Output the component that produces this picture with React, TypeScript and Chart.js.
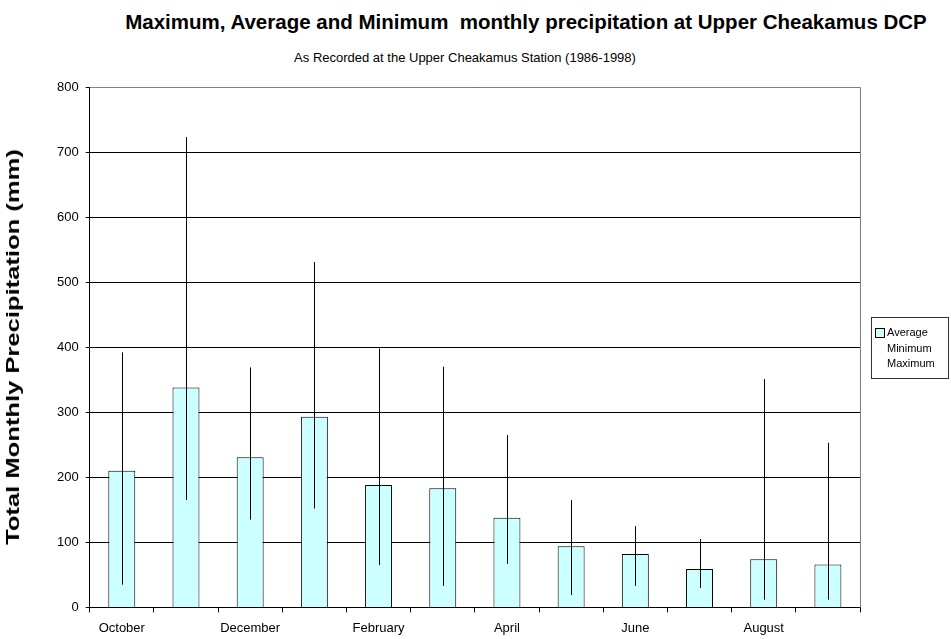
import React, { useEffect, useRef } from "react";
import { Chart, registerables } from "chart.js";

Chart.register(...registerables);

const months = [
  "October", "November", "December", "January", "February", "March",
  "April", "May", "June", "July", "August", "September",
];
const averageValues = [210, 338, 231, 293, 188, 183, 138, 94, 82, 59, 74, 66];
const minimumValues = [35, 165, 135, 152, 65, 33, 67, 19, 33, 30, 12, 12];
const maximumValues = [392, 723, 369, 531, 398, 370, 265, 165, 125, 105, 351, 253];
const yTicks = [0, 100, 200, 300, 400, 500, 600, 700, 800];

const titleText = "Maximum, Average and Minimum  monthly precipitation at Upper Cheakamus DCP";
const subtitleText = "As Recorded at the Upper Cheakamus Station (1986-1998)";
const yTitle = "Total Monthly Precipitation (mm)";

const FONT = "'Liberation Sans', Arial, sans-serif";

const hiLoPlugin = {
  id: "hiLo",
  afterDatasetsDraw(chart: any) {
    const { ctx, scales } = chart;
    const mins = chart.data.datasets[1].data as number[];
    const maxs = chart.data.datasets[2].data as number[];
    ctx.save();
    ctx.strokeStyle = "#000";
    ctx.lineWidth = 1;
    for (let i = 0; i < mins.length; i++) {
      const x = Math.round(scales.x.getPixelForValue(i)) + 0.5;
      const y1 = scales.y.getPixelForValue(mins[i]);
      const y2 = scales.y.getPixelForValue(maxs[i]);
      ctx.beginPath();
      ctx.moveTo(x, y1);
      ctx.lineTo(x, y2);
      ctx.stroke();
    }
    ctx.restore();
  },
};

const borderPlugin = {
  id: "plotBorder",
  afterDraw(chart: any) {
    const { ctx, chartArea } = chart;
    ctx.save();
    ctx.strokeStyle = "#808080";
    ctx.lineWidth = 1;
    ctx.beginPath();
    ctx.moveTo(chartArea.left, Math.round(chartArea.top) + 0.5);
    ctx.lineTo(Math.round(chartArea.right) + 0.5, Math.round(chartArea.top) + 0.5);
    ctx.lineTo(Math.round(chartArea.right) + 0.5, chartArea.bottom);
    ctx.stroke();
    ctx.restore();
  },
};

export default function App() {
  const canvasRef = useRef<HTMLCanvasElement>(null);

  useEffect(() => {
    const chart = new Chart(canvasRef.current as HTMLCanvasElement, {
      type: "bar",
      data: {
        labels: months,
        datasets: [
          {
            type: "bar",
            label: "Average",
            data: averageValues,
            backgroundColor: "#CCFFFF",
            borderColor: "#000000",
            borderWidth: 1,
            categoryPercentage: 1,
            barPercentage: 0.42,
          },
          {
            type: "line",
            label: "Minimum",
            data: minimumValues,
            showLine: false,
            pointRadius: 0,
          },
          {
            type: "line",
            label: "Maximum",
            data: maximumValues,
            showLine: false,
            pointRadius: 0,
          },
        ] as any,
      },
      options: {
        animation: false,
        responsive: false,
        maintainAspectRatio: false,
        layout: { padding: { top: 87, right: 91, left: 50, bottom: 0 } },
        plugins: {
          legend: { display: false },
          tooltip: { enabled: false },
          title: { display: false },
        },
        scales: {
          x: {
            offset: true,
            grid: {
              offset: true,
              drawOnChartArea: false,
              drawTicks: true,
              tickLength: 5,
              color: "#000",
            },
            border: { color: "#000", width: 1 },
            ticks: {
              autoSkip: false,
              maxRotation: 0,
              color: "#000",
              font: { family: FONT, size: 13 },
              padding: 8,
              callback: (_v: any, i: number) => (i % 2 === 0 ? months[i] : ""),
            },
          },
          y: {
            min: yTicks[0],
            max: yTicks[yTicks.length - 1],
            afterBuildTicks: (axis: any) => {
              axis.ticks = yTicks.map((v) => ({ value: v }));
            },
            grid: { color: "#000", tickLength: 4, lineWidth: 1 },
            border: { color: "#000", width: 1 },
            ticks: {
              color: "#000",
              font: { family: FONT, size: 13 },
              padding: 7,
            },
          },
        },
      },
      plugins: [hiLoPlugin, borderPlugin],
    });
    return () => chart.destroy();
  }, []);

  return (
    <div style={{ position: "fixed", left: 0, top: 0, width: 951, height: 639, background: "#fff", fontFamily: FONT, overflow: "hidden" }}>
      <div style={{ position: "absolute", left: 0, width: 1052, top: 10, textAlign: "center", fontWeight: "bold", fontSize: 20.5, lineHeight: "24px", color: "#000", whiteSpace: "pre" }}>
        {titleText}
      </div>
      <div style={{ position: "absolute", left: 0, width: 930, top: 50, textAlign: "center", fontSize: 13, color: "#000" }}>
        {subtitleText}
      </div>
      <canvas ref={canvasRef} width={951} height={644} style={{ position: "absolute", left: 0, top: 0 }} />
      <div style={{ position: "absolute", left: 13, top: 347, transform: "translate(-50%, -50%) rotate(-90deg) scaleX(1.42)", fontWeight: "bold", fontSize: 18, lineHeight: "20px", color: "#000", whiteSpace: "nowrap" }}>
        {yTitle}
      </div>
      <div style={{ position: "absolute", left: 871, top: 317, width: 78, height: 62, border: "1px solid #333", boxSizing: "border-box", fontSize: 11, color: "#000", lineHeight: "15.5px", paddingTop: 7 }}>
        <div style={{ position: "relative", paddingLeft: 15 }}>
          <span style={{ position: "absolute", left: 3, top: 3, width: 8, height: 8, background: "#CCFFFF", border: "1px solid #000" }} />
          Average
        </div>
        <div style={{ paddingLeft: 15 }}>Minimum</div>
        <div style={{ paddingLeft: 15 }}>Maximum</div>
      </div>
    </div>
  );
}
